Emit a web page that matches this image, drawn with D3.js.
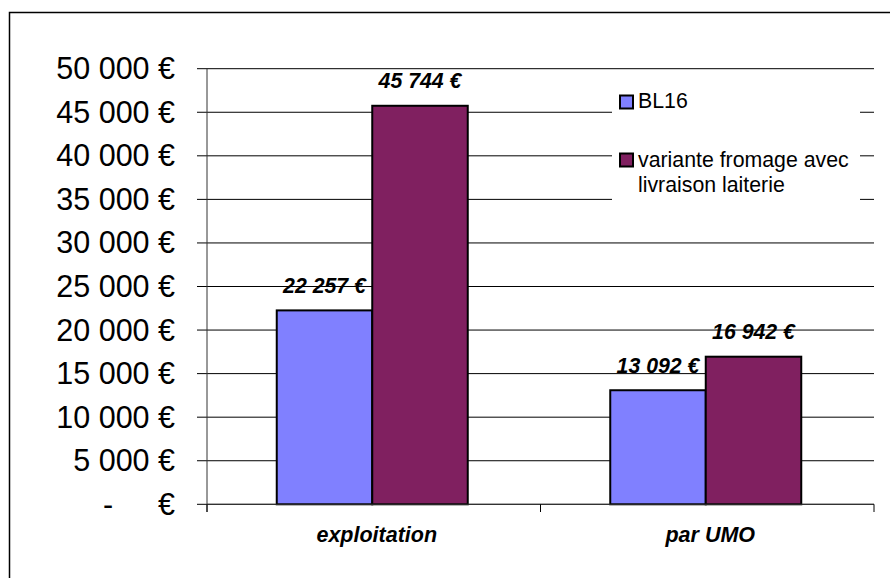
<!DOCTYPE html>
<html><head><meta charset="utf-8">
<script src="https://cdn.jsdelivr.net/npm/d3@7"></script>
<style>
html,body{margin:0;padding:0;background:#fff;}
svg{display:block;font-family:"Liberation Sans",Arial,sans-serif;}
</style></head>
<body>
<svg id="chart" width="890" height="578"></svg>
<script>
const categories = ["exploitation", "par UMO"];
const seriesNames = ["BL16", "variante fromage avec livraison laiterie"];
const seriesBL16 = [22257, 13092];
const seriesVariante = [45744, 16942];
const yTicks = [0, 5000, 10000, 15000, 20000, 25000, 30000, 35000, 40000, 45000, 50000];
const yTickLabels = ["-", "5 000 €", "10 000 €", "15 000 €", "20 000 €", "25 000 €", "30 000 €", "35 000 €", "40 000 €", "45 000 €", "50 000 €"];
const dataLabels = [["22 257 €", "13 092 €"], ["45 744 €", "16 942 €"]];
const colors = ["#8080FF", "#802060"];

(function () {
const svg = d3.select("#chart");
const pLeft = 207, pRight = 874, pTop = 68.7, pBottom = 504.3;

// outer frame (left and top edges visible)
svg.append("path").attr("d", "M9.5,578 L9.5,12.5 L890,12.5").attr("fill", "none").attr("stroke", "#000").attr("stroke-width", 1.5);

const y = d3.scaleLinear().domain([0, 50000]).range([pBottom, pTop]);
const x0 = d3.scaleBand().domain(categories).range([pLeft, pRight]);
const x1 = d3.scaleBand().domain([0, 1]).range([0, 191]);
const groupOffset = (x0.bandwidth() - 191) / 2 - 1.5;

// gridlines + tick marks
svg.append("g").selectAll("line").data(yTicks).join("line")
  .attr("x1", 197).attr("x2", pRight)
  .attr("y1", d => y(d)).attr("y2", d => y(d))
  .attr("stroke", "#000").attr("stroke-width", 1);

// y tick labels
const yl = svg.append("g").attr("font-size", 30.5).attr("fill", "#000");
yTicks.forEach((t, i) => {
  const lab = yTickLabels[i];
  if (lab === "-") {
    yl.append("text").attr("x", 108).attr("y", y(t) + 10.5).attr("text-anchor", "middle").text("-");
    yl.append("text").attr("x", 175).attr("y", y(t) + 10.5).attr("text-anchor", "end").text("€");
  } else {
    yl.append("text").attr("x", 175).attr("y", y(t) + 10.5).attr("text-anchor", "end").text(lab);
  }
});

// legend background (covers gridlines)
const lg = svg.append("g");
lg.append("rect").attr("x", 612).attr("y", 77).attr("width", 248).attr("height", 127).attr("fill", "#fff");

// bars
const series = [seriesBL16, seriesVariante];
series.forEach((vals, s) => {
  svg.append("g").selectAll("rect").data(vals).join("rect")
    .attr("x", (d, i) => x0(categories[i]) + groupOffset + x1(s))
    .attr("y", d => y(d))
    .attr("width", x1.bandwidth())
    .attr("height", d => pBottom - y(d))
    .attr("fill", colors[s]).attr("stroke", "#000").attr("stroke-width", 2);
  svg.append("g").selectAll("text").data(vals).join("text")
    .attr("x", (d, i) => x0(categories[i]) + groupOffset + x1(s) + x1.bandwidth() / 2)
    .attr("y", d => y(d) - 17.5)
    .attr("text-anchor", "middle")
    .attr("font-size", 21.3).attr("font-weight", "bold").attr("font-style", "italic")
    .text((d, i) => dataLabels[s][i]);
});

// axes lines
svg.append("line").attr("x1", pLeft).attr("x2", pLeft).attr("y1", pTop).attr("y2", 512).attr("stroke", "#333").attr("stroke-width", 1);
svg.append("line").attr("x1", pLeft).attr("x2", pRight).attr("y1", pBottom).attr("y2", pBottom).attr("stroke", "#333").attr("stroke-width", 1);
[pLeft, (pLeft + pRight) / 2, pRight].forEach(xv => {
  svg.append("line").attr("x1", xv).attr("x2", xv).attr("y1", pBottom).attr("y2", 512).attr("stroke", "#000").attr("stroke-width", 1);
});

// category labels
svg.append("g").selectAll("text").data(categories).join("text")
  .attr("x", d => x0(d) + x0.bandwidth() / 2 + 3)
  .attr("y", 542)
  .attr("text-anchor", "middle")
  .attr("font-size", 21.5).attr("font-weight", "bold").attr("font-style", "italic")
  .text(d => d);

// legend items
const legendRows = [
  { sq: 95.5, lines: ["BL16"], base: 108.3 },
  { sq: 153.5, lines: ["variante fromage avec", "livraison laiterie"], base: 166.7 }
];
legendRows.forEach((r, i) => {
  lg.append("rect").attr("x", 620).attr("y", r.sq).attr("width", 13).attr("height", 13)
    .attr("fill", colors[i]).attr("stroke", "#000").attr("stroke-width", 2);
  r.lines.forEach((ln, j) => {
    lg.append("text").attr("x", 638).attr("y", r.base + j * 25).attr("font-size", 21.3).attr("fill", "#000").text(ln);
  });
});
})();
</script>
</body></html>
